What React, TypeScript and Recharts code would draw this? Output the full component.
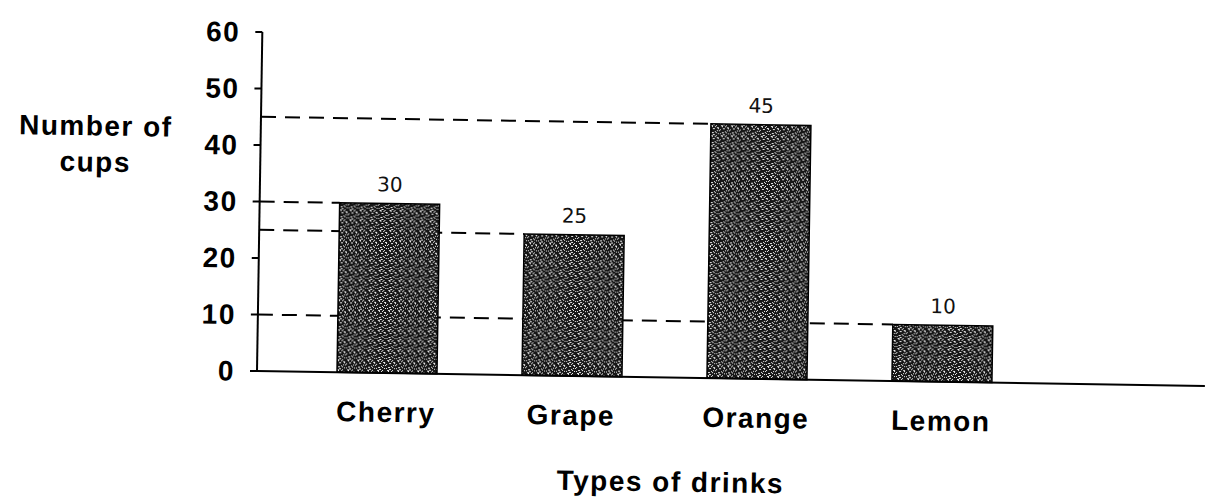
import { Bar, BarChart, LabelList, XAxis, YAxis } from 'recharts'

const categories = ['Cherry', 'Grape', 'Orange', 'Lemon']
const cups = [30, 25, 45, 10]
const yTicks = [0, 10, 20, 30, 40, 50, 60]

const data = categories.map((name, i) => ({ name, cups: cups[i] }))

const INK = '#000000'
const FONT = '"Liberation Sans", Arial, Helvetica, sans-serif'
const Y_WIDTH = 257
const MARGIN = { top: 32, right: 8, left: 0, bottom: 41 }
const PLOT_LEFT = MARGIN.left + Y_WIDTH

// speck layout for the scanned, stippled bar fill (10x10 tile)
const SPECKS: [number, number, number][] = [
  [0, 1, 1], [3, 0, 2], [6, 2, 1], [8, 5, 2], [1, 4, 1], [4, 6, 1], [7, 8, 2],
  [2, 8, 1], [5, 3, 1], [9, 1, 1], [0, 7, 1], [3, 3, 1], [6, 6, 1], [8, 9, 1],
  [1, 9, 1], [4, 1, 1], [9, 7, 1], [2, 5, 1]
]

const tickStyle = { fill: INK, fontSize: 28, fontWeight: 700, fontFamily: FONT, letterSpacing: 1.5 }

/** dashed guide from the y axis to the left edge of each bar, at its top */
function GuideLine(props: any) {
  const { x, y } = props
  return (
    <line
      x1={PLOT_LEFT}
      y1={y}
      x2={x}
      y2={y}
      stroke={INK}
      strokeWidth={2}
      strokeDasharray="15 9"
    />
  )
}

export default function App() {
  // the scanned original sits slightly askew, pivoting round the origin
  return (
    <div
      style={{
        position: 'absolute',
        left: 0,
        top: 0,
        background: '#fff',
        transform: 'rotate(0.9deg)',
        transformOrigin: '257px 371px'
      }}
    >
      <BarChart width={1213} height={502} data={data} margin={MARGIN}>
        <defs>
          <pattern id="stipple" width={10} height={10} patternUnits="userSpaceOnUse">
            <rect width={10} height={10} fill="#161616" />
            {SPECKS.map(([sx, sy, w], i) => (
              <rect key={i} x={sx} y={sy} width={w} height={1} fill="#eeeeee" />
            ))}
          </pattern>
        </defs>
        <XAxis
          dataKey="name"
          axisLine={{ stroke: INK, strokeWidth: 2 }}
          tickLine={false}
          tickSize={0}
          tickMargin={29}
          height={90}
          padding={{ left: 37, right: 171 }}
          tick={tickStyle}
          label={{
            content: () => (
              <text x={672} y={485} textAnchor="middle" {...tickStyle}>
                Types of drinks
              </text>
            )
          }}
        />
        <XAxis xAxisId="guide" dataKey="name" hide padding={{ left: 37, right: 171 }} />
        <YAxis
          domain={[0, 60]}
          ticks={yTicks}
          width={Y_WIDTH}
          axisLine={{ stroke: INK, strokeWidth: 2 }}
          tickLine={{ stroke: INK, strokeWidth: 2 }}
          tickSize={7}
          tickMargin={15}
          tick={tickStyle}
          label={{
            content: () => (
              <text textAnchor="middle" {...tickStyle}>
                <tspan x={92} y={138}>Number of</tspan>
                <tspan x={92} y={174}>cups</tspan>
              </text>
            )
          }}
        />
        <Bar
          xAxisId="guide"
          dataKey="cups"
          barSize={100}
          shape={GuideLine}
          isAnimationActive={false}
        />
        <Bar
          dataKey="cups"
          barSize={100}
          fill="url(#stipple)"
          stroke={INK}
          strokeWidth={1.5}
          isAnimationActive={false}
        >
          <LabelList
            dataKey="cups"
            position="top"
            offset={12}
            fill="#111"
            fontSize={20}
            fontFamily='"DejaVu Sans", sans-serif'
          />
        </Bar>
      </BarChart>
    </div>
  )
}
